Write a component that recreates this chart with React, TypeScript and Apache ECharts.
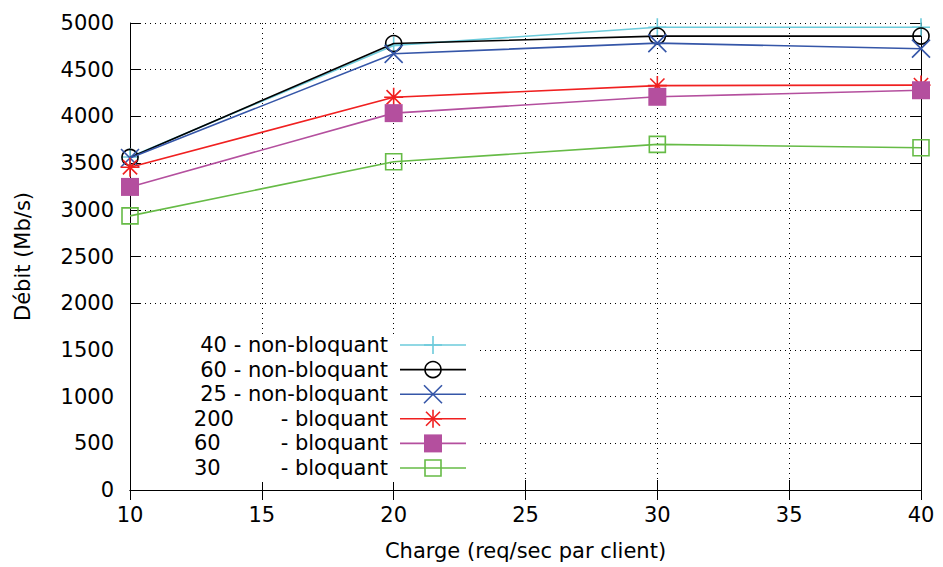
import React, { useEffect, useRef } from "react";
import * as echarts from "echarts";

const xValues = [10, 20, 30, 40];
const s40nb = [3565, 4760, 4955, 4955];
const s60nb = [3560, 4780, 4860, 4860];
const s25nb = [3555, 4670, 4785, 4725];
const s200b = [3455, 4205, 4330, 4335];
const s60b = [3245, 4035, 4210, 4280];
const s30b = [2935, 3515, 3700, 3665];

const seriesNames = [
  "40 - non-bloquant",
  "60 - non-bloquant",
  "25 - non-bloquant",
  "200\u00a0\u00a0\u00a0\u00a0\u00a0\u00a0\u00a0- bloquant",
  "60\u00a0\u00a0\u00a0\u00a0\u00a0\u00a0\u00a0\u00a0\u00a0- bloquant",
  "30\u00a0\u00a0\u00a0\u00a0\u00a0\u00a0\u00a0\u00a0\u00a0- bloquant",
];
const seriesData = [s40nb, s60nb, s25nb, s200b, s60b, s30b];
const colors = ["#6ccbdb", "#000000", "#3556a8", "#f02020", "#b44f9e", "#66bb46"];
const xTicks = [10, 15, 20, 25, 30, 35, 40];

const FONT = "DejaVu Sans";
const FS = 21;

const PLUS = "path://M8,0V16M0,8H16";
const CROSS = "path://M0,0L16,16M16,0L0,16";
const STAR = "path://M8,0V16M0,8H16M2,2L14,14M14,2L2,14";

const symbols = [
  { symbol: PLUS, size: 18, fill: false },
  { symbol: "circle", size: 16, fill: false },
  { symbol: CROSS, size: 18, fill: false },
  { symbol: STAR, size: 19, fill: false },
  { symbol: "rect", size: 18, fill: true },
  { symbol: "rect", size: 16, fill: false },
];

function legendMarker(i: number, cx: number, cy: number): any[] {
  const c = colors[i];
  const st = { stroke: c, lineWidth: 1.6, fill: "none" };
  const h = 9;
  const line = (x1: number, y1: number, x2: number, y2: number) => ({
    type: "line",
    shape: { x1, y1, x2, y2 },
    style: st,
  });
  switch (i) {
    case 0:
      return [line(cx, cy - h, cx, cy + h), line(cx - h, cy, cx + h, cy)];
    case 1:
      return [{ type: "circle", shape: { cx, cy, r: 8 }, style: st }];
    case 2:
      return [line(cx - h, cy - h, cx + h, cy + h), line(cx + h, cy - h, cx - h, cy + h)];
    case 3: {
      const d = 7;
      return [
        line(cx, cy - h, cx, cy + h),
        line(cx - h, cy, cx + h, cy),
        line(cx - d, cy - d, cx + d, cy + d),
        line(cx + d, cy - d, cx - d, cy + d),
      ];
    }
    case 4:
      return [{ type: "rect", shape: { x: cx - 9, y: cy - 9, width: 18, height: 18 }, style: { fill: c } }];
    default:
      return [{ type: "rect", shape: { x: cx - 8, y: cy - 8, width: 16, height: 16 }, style: st }];
  }
}

export default function App() {
  const ref = useRef<HTMLDivElement>(null);
  useEffect(() => {
    if (!ref.current) return;
    const chart = echarts.init(ref.current, null, { renderer: "svg" });

    const legendGraphics: any[] = [
      {
        type: "rect",
        z: 5,
        shape: { x: 131, y: 334, width: 347, height: 148 },
        style: { fill: "#ffffff" },
      },
    ];
    const rowY0 = 345;
    const rowStep = 24.6;
    seriesNames.forEach((name, i) => {
      const y = rowY0 + i * rowStep;
      legendGraphics.push({
        type: "text",
        z: 6,
        style: {
          text: name,
          x: 388,
          y,
          align: "right",
          verticalAlign: "middle",
          font: `${FS}px "${FONT}"`,
          fill: "#000",
        },
      });
      legendGraphics.push({
        type: "line",
        z: 6,
        shape: { x1: 400, y1: y, x2: 466, y2: y },
        style: { stroke: colors[i], lineWidth: 1.6 },
      });
      legendMarker(i, 433, y).forEach((m) => legendGraphics.push({ ...m, z: 7 }));
    });

    const axisLine = { show: true, lineStyle: { color: "#000", width: 1 } };
    const tick = { show: true, inside: true, length: 10, lineStyle: { color: "#000", width: 1 } };
    const gridLine = { show: true, lineStyle: { color: "#000", width: 1, type: [1, 4] as any } };

    chart.setOption({
      animation: false,
      backgroundColor: "#ffffff",
      grid: { left: 130, right: 22, top: 23, bottom: 77, containLabel: false },
      xAxis: [
        {
          type: "value",
          min: 10,
          max: 40,
          interval: 5,
          position: "bottom",
          axisLine,
          axisTick: tick,
          splitLine: gridLine,
          axisLabel: {
            color: "#000",
            fontSize: FS,
            fontFamily: FONT,
            margin: 14,
            formatter: (v: number) => (xTicks.includes(v) ? String(v) : ""),
          },
          name: "Charge (req/sec par client)",
          nameLocation: "middle",
          nameGap: 50,
          nameTextStyle: { color: "#000", fontSize: FS, fontFamily: FONT },
        },
        {
          type: "value",
          min: 10,
          max: 40,
          interval: 5,
          position: "top",
          axisLine,
          axisTick: tick,
          splitLine: { show: false },
          axisLabel: { show: false },
        },
      ],
      yAxis: [
        {
          type: "value",
          min: 0,
          max: 5000,
          interval: 500,
          position: "left",
          axisLine,
          axisTick: tick,
          splitLine: gridLine,
          axisLabel: {
            color: "#000",
            fontSize: FS,
            fontFamily: FONT,
            margin: 16,
            formatter: (v: number) => String(v),
          },
          name: "Débit (Mb/s)",
          nameLocation: "middle",
          nameGap: 97,
          nameTextStyle: { color: "#000", fontSize: FS, fontFamily: FONT },
        },
        {
          type: "value",
          min: 0,
          max: 5000,
          interval: 500,
          position: "right",
          axisLine,
          axisTick: tick,
          splitLine: { show: false },
          axisLabel: { show: false },
        },
      ],
      series: seriesData.map((vals, i) => ({
        name: seriesNames[i],
        type: "line",
        xAxisIndex: 0,
        yAxisIndex: 0,
        data: vals.map((v, k) => [xValues[k], v]),
        symbol: symbols[i].symbol,
        symbolSize: symbols[i].size,
        showSymbol: true,
        clip: false,
        z: 10 + i,
        lineStyle: { color: colors[i], width: 1.6 },
        itemStyle: {
          color: symbols[i].fill ? colors[i] : "rgba(0,0,0,0)",
          borderColor: colors[i],
          borderWidth: symbols[i].fill ? 0 : 1.6,
        },
      })),
      graphic: legendGraphics,
    });

    return () => chart.dispose();
  }, []);

  return (
    <div
      ref={ref}
      style={{ position: "fixed", left: 0, top: 0, width: 943, height: 567, background: "#fff" }}
    />
  );
}
